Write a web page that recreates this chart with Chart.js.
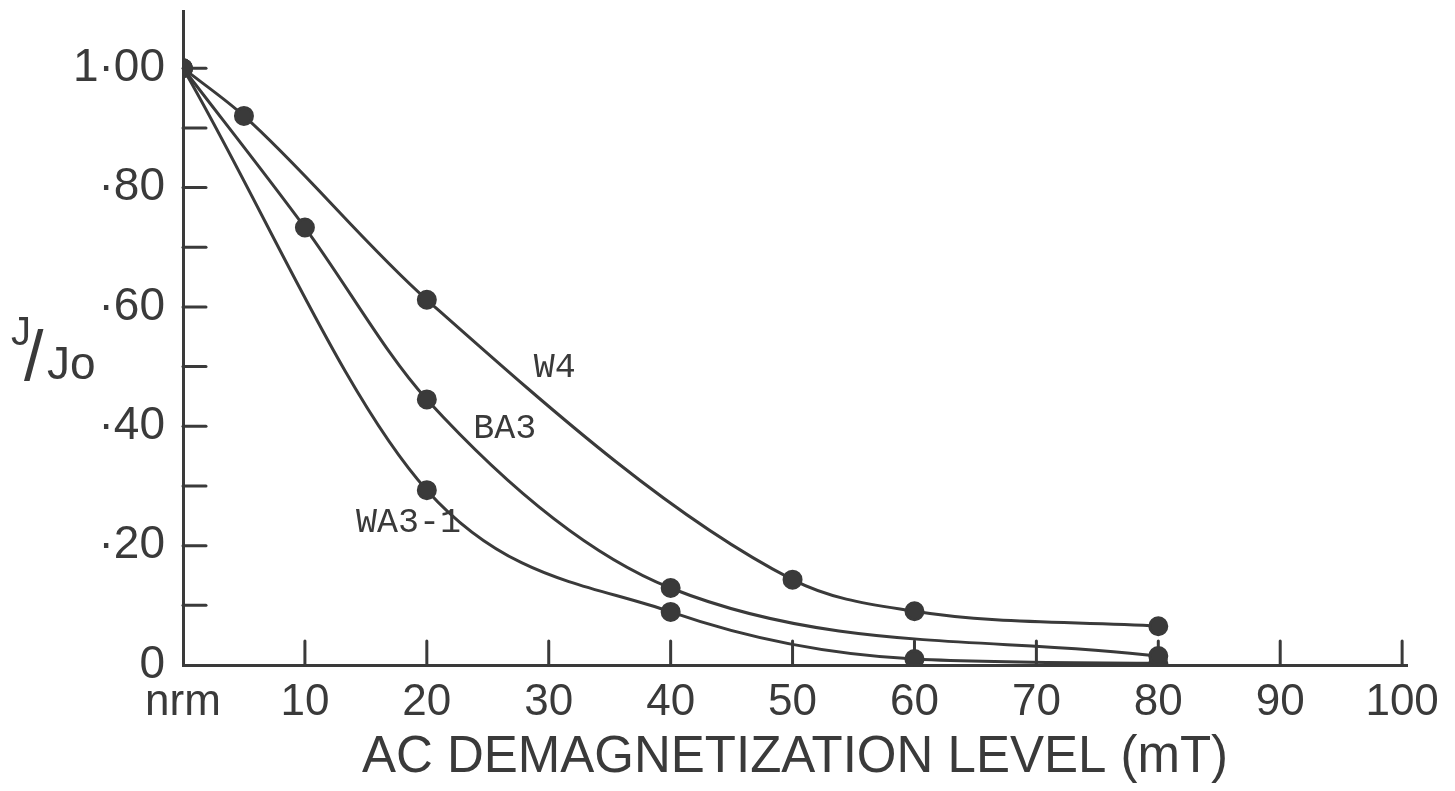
<!DOCTYPE html>
<html>
<head>
<meta charset="utf-8">
<script src="https://cdn.jsdelivr.net/npm/chart.js@4.4.0/dist/chart.umd.min.js"></script>
<style>
  html, body { margin: 0; background: #fff; }
  #wrap { width: 1455px; height: 791px; }
</style>
</head>
<body>
<div id="wrap"><canvas id="chart"></canvas></div>
<script>
// ─── Data ───
const w4X  = [0, 5, 20, 50, 60, 80];
const w4Y  = [1.00, 0.92, 0.612, 0.143, 0.090, 0.065];
const ba3X = [0, 10, 20, 40, 80];
const ba3Y = [1.00, 0.733, 0.445, 0.129, 0.015];
const wa3X = [0, 20, 40, 60, 80];
const wa3Y = [1.00, 0.293, 0.089, 0.010, 0.003];

const seriesNames = ['W4', 'BA3', 'WA3-1'];
const xTicks = [0, 10, 20, 30, 40, 50, 60, 70, 80, 90, 100];
const xTickLabels = ['nrm', '10', '20', '30', '40', '50', '60', '70', '80', '90', '100'];
const yTicks = [0, 0.2, 0.4, 0.6, 0.8, 1.0];
const yTickLabels = ['0', '·20', '·40', '·60', '·80', '1·00'];
const yMinorTicks = [0.1, 0.2, 0.3, 0.4, 0.5, 0.6, 0.7, 0.8, 0.9, 1.0];
const xTitle = 'AC DEMAGNETIZATION LEVEL (mT)';

const INK = '#3a3a3a';
const pts = (xs, ys) => xs.map((x, i) => ({ x, y: ys[i] }));

// where the curve names sit, in data units
const nameAnchors = [[30.5, 0.498], [26.4, 0.396], [18.5, 0.239]];

// ─── Inward tick marks, curve names and the J/Jo label ───
const drawing = {
    id: 'drawing',
    beforeDatasetsDraw(chart) {
        const { ctx, scales: { x, y } } = chart;
        ctx.save();
        ctx.strokeStyle = INK;
        ctx.lineWidth = 3;
        ctx.lineCap = 'round';
        const x0 = x.getPixelForValue(0), y0 = y.getPixelForValue(0);
        xTicks.slice(1).forEach(v => {
            const px = x.getPixelForValue(v);
            ctx.beginPath(); ctx.moveTo(px, y0); ctx.lineTo(px, y0 - 24); ctx.stroke();
        });
        yMinorTicks.forEach(v => {
            const py = y.getPixelForValue(v);
            ctx.beginPath(); ctx.moveTo(x0, py); ctx.lineTo(x0 + 23, py); ctx.stroke();
        });
        ctx.restore();
    },
    afterDraw(chart) {
        const { ctx, scales: { x, y } } = chart;
        ctx.save();
        ctx.fillStyle = INK;
        ctx.textAlign = 'center';
        ctx.textBaseline = 'middle';
        ctx.font = '35px "Liberation Mono", monospace';
        seriesNames.forEach((name, i) => {
            const [ax, ay] = nameAnchors[i];
            ctx.fillText(name, x.getPixelForValue(ax), y.getPixelForValue(ay));
        });
        // J/Jo
        ctx.textAlign = 'left';
        ctx.textBaseline = 'alphabetic';
        ctx.font = '40px "Liberation Sans", sans-serif';
        ctx.fillText('J', 11, 345);
        ctx.font = '70px "Liberation Sans", sans-serif';
        ctx.fillText('/', 24, 380);
        ctx.font = '46px "Liberation Sans", sans-serif';
        ctx.fillText('Jo', 47, 379);
        ctx.restore();
    }
};

const line = (label, data) => ({
    label, data,
    showLine: true,
    borderColor: INK, backgroundColor: INK,
    borderWidth: 3,
    pointRadius: 8.5, pointHoverRadius: 8.5,
    pointBackgroundColor: INK, pointBorderColor: INK,
    cubicInterpolationMode: 'monotone',
    fill: false
});

new Chart(document.getElementById('chart'), {
    type: 'scatter',
    data: {
        datasets: [
            line(seriesNames[0], pts(w4X, w4Y)),
            line(seriesNames[1], pts(ba3X, ba3Y)),
            line(seriesNames[2], pts(wa3X, wa3Y))
        ]
    },
    options: {
        responsive: true,
        maintainAspectRatio: false,
        animation: false,
        layout: { padding: { top: 10, right: 48, left: 0, bottom: 0 } },
        plugins: { legend: { display: false }, tooltip: { enabled: false } },
        scales: {
            x: {
                type: 'linear', min: 0, max: 100.4,
                afterBuildTicks: s => { s.ticks = xTicks.map(v => ({ value: v })); },
                afterFit: s => { s.height = 126; s.paddingLeft = 0; s.paddingRight = 0; },
                grid: { display: false },
                border: { display: true, color: INK, width: 3 },
                ticks: {
                    color: INK, padding: 3,
                    font: { family: '"Liberation Sans", sans-serif', size: 44 },
                    callback: (v) => xTickLabels[xTicks.indexOf(v)]
                },
                title: {
                    display: true, text: xTitle, color: INK,
                    font: { family: '"Liberation Sans", sans-serif', size: 51 },
                    padding: { top: 0, bottom: 2 }
                }
            },
            y: {
                type: 'linear', min: 0, max: 1.095,
                afterBuildTicks: s => { s.ticks = yTicks.map(v => ({ value: v })); },
                afterFit: s => { s.width = 183; s.paddingTop = 0; s.paddingBottom = 0; },
                grid: { display: false },
                border: { display: true, color: INK, width: 3 },
                ticks: {
                    color: INK, padding: 10,
                    font: { family: '"Liberation Sans", sans-serif', size: 46 },
                    callback: (v) => yTickLabels[yTicks.indexOf(v)]
                }
            }
        }
    },
    plugins: [drawing]
});
</script>
</body>
</html>
